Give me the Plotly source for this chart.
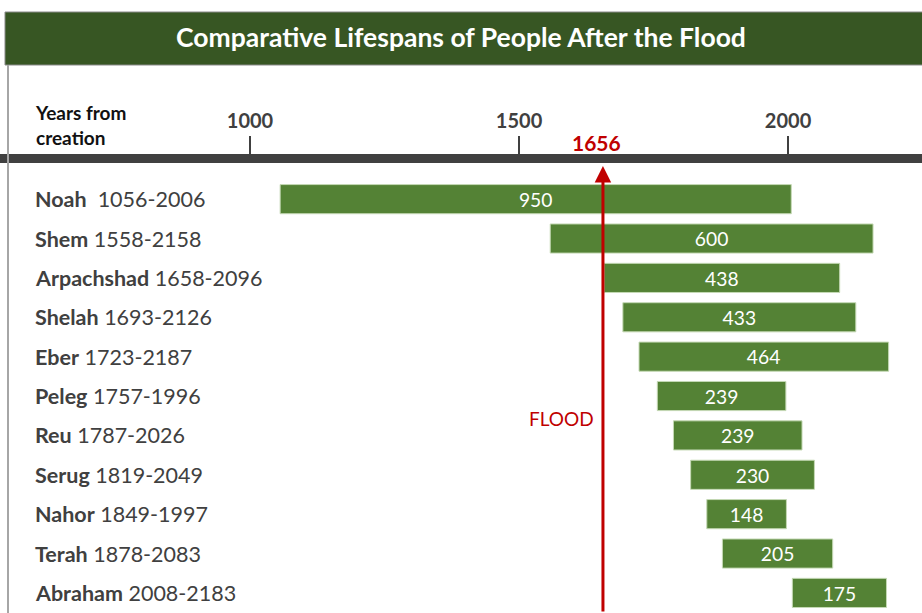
import plotly.graph_objects as go

# data
names = ["Noah", "Shem", "Arpachshad", "Shelah", "Eber", "Peleg",
         "Reu", "Serug", "Nahor", "Terah", "Abraham"]
born = [1056, 1558, 1658, 1693, 1723, 1757, 1787, 1819, 1849, 1878, 2008]
died = [2006, 2158, 2096, 2126, 2187, 1996, 2026, 2049, 1997, 2083, 2183]
flood_year = 1656
tick_years = [1000, 1500, 2000]

lifespans = [d - b for b, d in zip(born, died)]
row_labels = [
    f"<b>{n}</b>{'  ' if n == 'Noah' else ' '}{b}-{d}"
    for n, b, d in zip(names, born, died)
]

W, H = 922, 613
TOP = 163  # top of the plot area, px
FONT = "Lato, 'Open Sans', sans-serif"
GREEN_DARK = "#375623"
GREEN = "#548235"
RED = "#C00000"
GREY = "#404040"


def py(px):
    """pixel row -> paper y"""
    return (H - px) / (H - TOP)


fig = go.Figure()
fig.add_trace(go.Bar(
    y=names,
    x=lifespans,
    base=born,
    orientation="h",
    width=0.74,
    marker=dict(color=GREEN, line=dict(color="#C5D9B5", width=1)),
    text=[str(v) for v in lifespans],
    textposition="inside",
    insidetextanchor="middle",
    textangle=0,
    textfont=dict(color="white", size=20, family=FONT),
    hoverinfo="skip",
    showlegend=False,
))

shapes = [
    # green title banner
    dict(type="rect", xref="paper", yref="paper", x0=5 / W, x1=1.01,
         y0=py(65), y1=py(12), fillcolor=GREEN_DARK,
         line=dict(color="#8A8A8A", width=1), layer="above"),
    # left frame
    dict(type="line", xref="paper", yref="paper", x0=8 / W, x1=8 / W,
         y0=0, y1=py(65), line=dict(color="#A6A6A6", width=2)),
]

annotations = [
    dict(text="<b>Years from<br>creation</b>", xref="paper", yref="paper",
         x=33 / W, y=py(125), xanchor="left", yanchor="middle", align="left",
         showarrow=False, font=dict(size=19, color="#111111", family=FONT)),
    dict(text="<b>1656</b>", x=flood_year, xref="x", yref="paper", y=py(143),
         xshift=-6, showarrow=False, yanchor="middle",
         font=dict(size=21, color=RED, family=FONT)),
    # flood arrow
    dict(text="", x=flood_year, xref="x", yref="paper", y=py(166),
         ax=0, ay=H - 166 + 10, showarrow=True, arrowhead=2, arrowsize=1.1,
         arrowwidth=3, arrowcolor=RED),
    dict(text="FLOOD", x=flood_year, xref="x", yref="paper", y=py(418),
         xanchor="right", xshift=-7, yanchor="middle", showarrow=False,
         font=dict(size=19, color=RED, family=FONT)),
]
# row labels on the left
for name, label in zip(names, row_labels):
    annotations.append(dict(
        text=label, xref="paper", x=33 / W, yref="y", y=name,
        xanchor="left", yanchor="middle", showarrow=False,
        font=dict(size=21.5, color=GREY, family=FONT),
    ))

fig.update_layout(
    width=W, height=H,
    margin=dict(l=0, r=0, t=TOP, b=0),
    paper_bgcolor="white",
    plot_bgcolor="white",
    title=dict(text="<b>Comparative Lifespans of People After the Flood</b>",
               x=0.5, xanchor="center", y=1 - 38 / H, yanchor="middle",
               font=dict(size=26.5, color="white", family=FONT)),
    shapes=shapes,
    annotations=annotations,
)
fig.update_xaxes(
    side="top", range=[535.3, 2249.0],
    tickvals=tick_years, ticktext=[f"<b>{t}</b>" for t in tick_years],
    ticks="outside", ticklen=18, tickwidth=2, tickcolor=GREY,
    tickfont=dict(size=20, color=GREY, family=FONT),
    showline=True, linecolor=GREY, linewidth=9,
    showgrid=False, zeroline=False, fixedrange=True,
)
fig.update_yaxes(
    type="category", categoryorder="array", categoryarray=names,
    range=[10.51, -0.918], showticklabels=False,
    ticks="", showline=False, showgrid=False, zeroline=False, fixedrange=True,
)

# the page body has a default 8px margin; drop it so the figure sits at 0,0
fig.write_html("out.html", config={"displayModeBar": False},
               post_script="document.body.style.margin='0';")
